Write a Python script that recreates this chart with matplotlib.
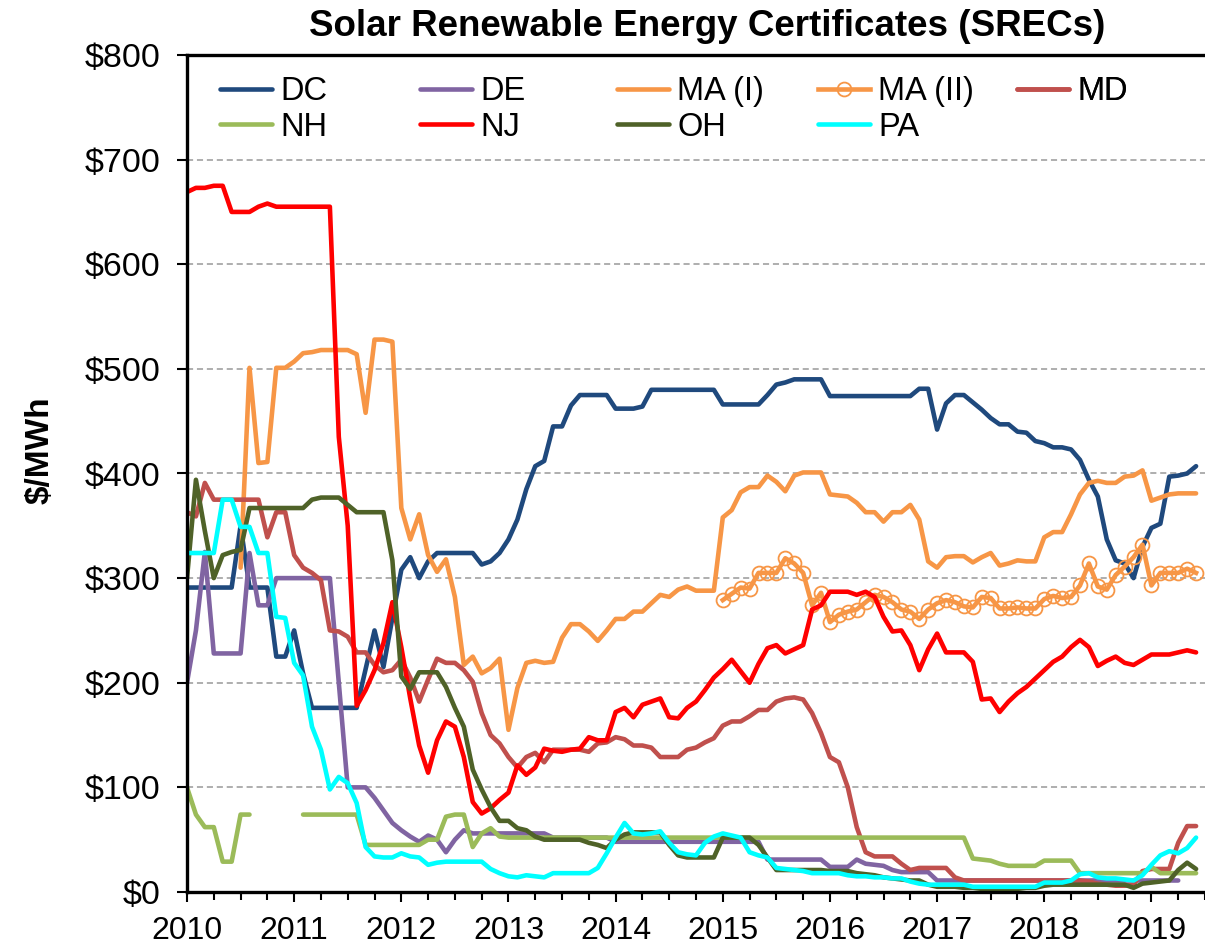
import numpy as np
import matplotlib
matplotlib.use("Agg")
import matplotlib.pyplot as plt
from matplotlib.ticker import MultipleLocator, FuncFormatter

plt.rcParams['font.family'] = ['Liberation Sans', 'DejaVu Sans']

nan = np.nan

# monthly SREC prices, Jan 2010 .. Jun 2019 ($/MWh)
DC = [291, 291, 291, 291, 291, 291, 350, 291, 291, 291,
      225, 225, 250, 209, 176, 176, 176, 176, 176, 176,
      213, 250, 215, 262, 308, 320, 300, 316, 324, 324,
      324, 324, 324, 313, 316, 324, 337, 356, 385, 407,
      412, 445, 445, 465, 475, 475, 475, 475, 462, 462,
      462, 464, 480, 480, 480, 480, 480, 480, 480, 480,
      466, 466, 466, 466, 466, 475, 485, 487, 490, 490,
      490, 490, 474, 474, 474, 474, 474, 474, 474, 474,
      474, 474, 481, 481, 442, 467, 475, 475, 468, 461,
      453, 447, 447, 440, 439, 431, 429, 425, 425, 423,
      413, 394, 378, 337, 317, 314, 300, 330, 348, 352,
      397, 398, 400, 407]

DE = [200, 250, 325, 228, 228, 228, 228, 324, 274, 274,
      300, 300, 300, 300, 300, 300, 300, 200, 100, 100,
      100, 90, 78, 66, 59, 53, 48, 54, 50, 38,
      50, 59, 56, 56, 56, 56, 56, 56, 56, 56,
      56, 52, 52, 52, 52, 52, 52, 52, 48, 48,
      48, 48, 48, 48, 48, 48, 48, 48, 48, 48,
      48, 48, 48, 48, 48, 31, 31, 31, 31, 31,
      31, 31, 24, 24, 24, 31, 27, 26, 25, 21,
      19, 19, 19, 19, 11, 11, 11, 11, 11, 11,
      11, 11, 11, 11, 11, 11, 11, 11, 11, 11,
      11, 11, 11, 11, 11, 11, 11, 11, 11, 11,
      11, 11, nan, nan]

MA1 = [nan, nan, nan, nan, nan, nan, 310, 501, 410, 411,
       501, 501, 507, 515, 516, 518, 518, 518, 518, 514,
       458, 528, 528, 526, 367, 337, 361, 322, 306, 318,
       282, 217, 225, 209, 214, 223, 155, 195, 219, 221,
       219, 220, 243, 256, 256, 249, 240, 250, 261, 261,
       268, 268, 276, 284, 282, 289, 292, 288, 288, 288,
       358, 365, 382, 387, 387, 398, 392, 383, 398, 401,
       401, 401, 380, 379, 378, 372, 363, 363, 354, 363,
       363, 370, 356, 316, 310, 320, 321, 321, 315, 320,
       324, 312, 314, 317, 316, 316, 339, 344, 344, 361,
       380, 391, 393, 391, 391, 397, 398, 403, 374, 377,
       380, 381, 381, 381]

MA2 = [nan] * 60 + [
       279, 285, 291, 290, 305, 305, 305, 319, 314, 305,
       274, 286, 258, 265, 268, 270, 277, 284, 282, 277,
       270, 268, 261, 270, 276, 279, 277, 273, 272, 282,
       281, 271, 271, 272, 271, 271, 280, 283, 281, 282,
       293, 314, 292, 289, 303, 311, 320, 332, 293, 305,
       305, 305, 309, 305]

MD = [363, 359, 391, 375, 375, 375, 375, 375, 375, 339,
      363, 363, 322, 310, 305, 298, 250, 249, 244, 229,
      229, 217, 210, 212, 222, 205, 182, 203, 223, 219,
      219, 212, 201, 171, 150, 142, 129, 119, 129, 133,
      124, 136, 136, 136, 136, 134, 142, 143, 148, 146,
      140, 140, 138, 129, 129, 129, 136, 138, 143, 147,
      159, 163, 163, 168, 174, 174, 182, 185, 186, 184,
      171, 152, 129, 124, 100, 62, 38, 34, 34, 34,
      27, 21, 23, 23, 23, 23, 14, 11, 11, 11,
      11, 11, 11, 11, 11, 11, 11, 11, 11, 11,
      11, 10, 8, 7, 6, 6, 7, 20, 22, 22,
      22, 47, 63, 63]

NH = [100, 74, 62, 62, 29, 29, 74, 74, nan, nan,
      nan, nan, nan, 74, 74, 74, 74, 74, 74, 74,
      45, 45, 45, 45, 45, 45, 45, 50, 50, 72,
      74, 74, 43, 56, 61, 53, 52, 52, 52, 52,
      52, 52, 52, 52, 52, 52, 52, 52, 52, 52,
      52, 52, 52, 52, 52, 52, 52, 52, 52, 52,
      52, 52, 52, 52, 52, 52, 52, 52, 52, 52,
      52, 52, 52, 52, 52, 52, 52, 52, 52, 52,
      52, 52, 52, 52, 52, 52, 52, 52, 32, 31,
      30, 27, 25, 25, 25, 25, 30, 30, 30, 30,
      18, 18, 18, 18, 18, 18, 18, 18, 24, 18,
      18, 18, 18, 18]

NJ = [669, 673, 673, 675, 675, 650, 650, 650, 655, 658,
      655, 655, 655, 655, 655, 655, 655, 435, 350, 178,
      193, 212, 238, 277, 234, 185, 140, 114, 145, 163,
      158, 129, 86, 75, 80, 88, 95, 121, 112, 119,
      137, 135, 134, 136, 137, 148, 145, 145, 172, 176,
      167, 179, 182, 185, 167, 166, 176, 182, 193, 205,
      213, 222, 211, 200, 218, 233, 236, 228, 232, 236,
      270, 274, 287, 287, 287, 284, 287, 282, 263, 249,
      250, 236, 212, 232, 247, 229, 229, 229, 220, 184,
      185, 172, 182, 190, 196, 204, 212, 220, 225, 234,
      241, 234, 216, 221, 225, 219, 217, 222, 227, 227,
      227, 229, 231, 229]

OH = [300, 394, 345, 300, 322, 325, 327, 367, 367, 367,
      367, 367, 367, 367, 375, 377, 377, 377, 370, 363,
      363, 363, 363, 317, 206, 194, 210, 210, 210, 196,
      176, 158, 117, 98, 81, 68, 68, 61, 59, 53,
      50, 50, 50, 50, 50, 47, 45, 42, 50, 55,
      57, 57, 57, 57, 45, 35, 33, 33, 33, 33,
      52, 52, 52, 52, 45, 33, 21, 21, 21, 21,
      21, 21, 20, 20, 20, 18, 17, 16, 14, 13,
      12, 11, 11, 7, 5, 5, 5, 4, 4, 3,
      3, 3, 3, 3, 4, 4, 6, 7, 7, 7,
      7, 7, 7, 7, 7, 7, 4, 8, 9, 10,
      11, 21, 28, 22]

PA = [324, 324, 324, 324, 375, 375, 349, 349, 324, 324,
      263, 262, 219, 207, 158, 136, 98, 110, 104, 85,
      43, 34, 33, 33, 37, 34, 33, 26, 28, 29,
      29, 29, 29, 29, 22, 18, 15, 14, 16, 15,
      14, 18, 18, 18, 18, 18, 23, 37, 52, 66,
      56, 55, 56, 58, 47, 38, 36, 35, 47, 53,
      56, 54, 52, 38, 35, 33, 23, 22, 21, 20,
      18, 18, 18, 18, 16, 15, 15, 14, 14, 13,
      13, 10, 8, 7, 7, 7, 7, 7, 5, 5,
      5, 5, 5, 5, 5, 5, 9, 9, 9, 11,
      17, 18, 14, 13, 13, 12, 11, 16, 26, 35,
      39, 37, 42, 52]

labels = ['DC', 'DE', 'MA (I)', 'MA (II)', 'MD', 'NH', 'NJ', 'OH', 'PA']
series = [DC, DE, MA1, MA2, MD, NH, NJ, OH, PA]
colors = ['#1F497D', '#8064A2', '#F79646', '#F79646', '#C0504D',
          '#9BBB59', '#FF0000', '#4F6228', '#00FFFF']

LEG_FS = 23.5
LW = 3.3

fig = plt.figure(figsize=(12.05, 9.47), dpi=100)
ax = fig.add_axes([187 / 1205, 1 - 892 / 947, 1 - 187 / 1205, (892 - 55) / 947])

x = 2010 + np.arange(len(DC)) / 12
handles = []
for lab, vals, col in zip(labels, series, colors):
    if lab == 'MA (II)':
        h, = ax.plot(x, vals, color=col, lw=LW, marker='o', ms=10,
                     mfc='none', mec=col, mew=1.3, label=lab)
    else:
        h, = ax.plot(x, vals, color=col, lw=LW, label=lab,
                     solid_joinstyle='round', solid_capstyle='round')
    handles.append(h)

ax.set_xlim(2010, 2010 + 114 / 12)
ax.set_ylim(0, 800)
ax.xaxis.set_major_locator(MultipleLocator(1))
ax.xaxis.set_minor_locator(MultipleLocator(0.25))
ax.yaxis.set_major_locator(MultipleLocator(100))
ax.xaxis.set_major_formatter(FuncFormatter(lambda v, p: f'{int(round(v))}'))
ax.yaxis.set_major_formatter(FuncFormatter(lambda v, p: f'${int(v)}'))
ax.tick_params(axis='both', which='both', direction='out', width=1.5, color='black')
ax.tick_params(axis='x', which='major', length=7, pad=10, labelsize=23)
ax.tick_params(axis='x', which='minor', length=6)
ax.tick_params(axis='y', which='major', length=7, pad=12, labelsize=24.5)

for yv in range(100, 800, 100):
    ax.axhline(yv, color='#999999', lw=1.1, ls=(0, (4, 2.5)), zorder=0)

for side in ['left', 'bottom', 'top']:
    ax.spines[side].set_linewidth(2.4)
    ax.spines[side].set_color('black')
ax.spines['right'].set_visible(False)

# legend: one small legend per column, positioned like the reference
col_x = [220, 420, 617, 818, 1017]
groups = [[0, 5], [1, 6], [2, 7], [3, 8], [4]]
for cx, grp in zip(col_x, groups):
    leg = ax.legend([handles[i] for i in grp], [labels[i] for i in grp],
                    loc='upper left', frameon=False, fontsize=LEG_FS,
                    handlelength=1.6, handletextpad=0.25, labelspacing=0.15,
                    borderaxespad=0, borderpad=0,
                    bbox_to_anchor=((cx - 187) / 1018, 1 - (76 - 55) / 837))
    ax.add_artist(leg)

fig.text(707 / 1205, 1 - 27 / 947, 'Solar Renewable Energy Certificates (SRECs)',
         ha='center', va='center', fontsize=26.5, fontweight='bold')
fig.text(40 / 1205, 1 - 450 / 947, '$/MWh', ha='center', va='center',
         rotation=90, fontsize=24, fontweight='bold')

fig.savefig('out.png', dpi=100)
